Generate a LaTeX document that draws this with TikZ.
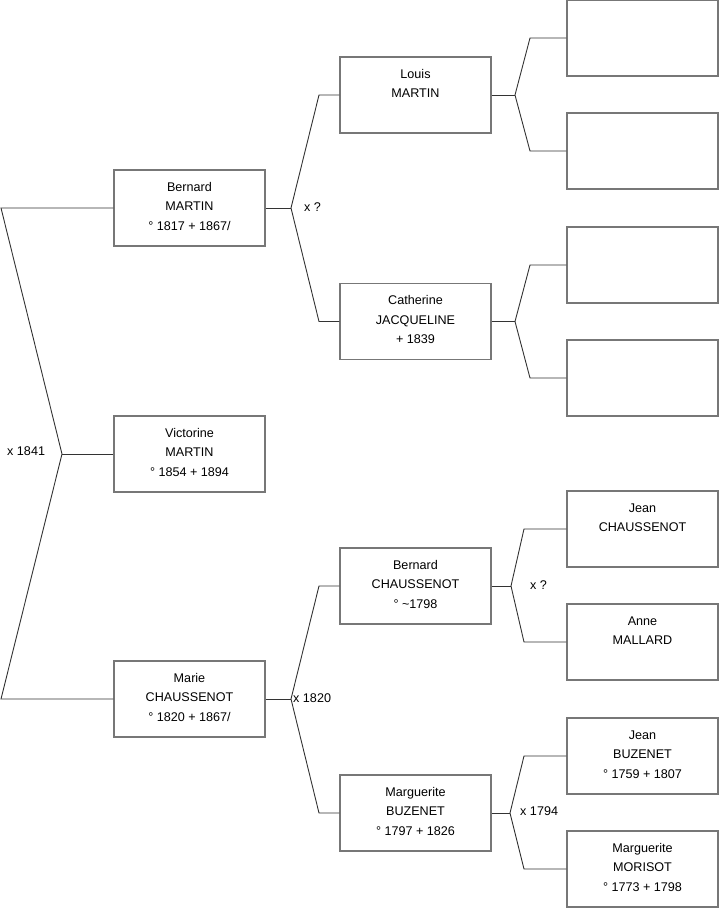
\documentclass[tikz,border=0pt]{standalone}
\usepackage{fontspec}
\setmainfont{Liberation Sans}
\definecolor{boxc}{HTML}{777777}
\definecolor{linec}{HTML}{333333}
\begin{document}
\begin{tikzpicture}[x=1pt,y=-1pt,
  box/.style={draw=boxc,line width=1.1pt,minimum width=151pt,minimum height=76pt,inner sep=0pt,fill=white},
  txt/.style={anchor=north,inner sep=0pt,align=center,font=\fontsize{12.6}{19.5}\selectfont},
  conn/.style={draw=linec,line width=0.9pt},
  mlab/.style={inner sep=0pt,font=\fontsize{12.6}{15}\selectfont,anchor=west}]
\useasboundingbox (0,0) rectangle (719,908);
\newcommand{\fl}{\rule{0pt}{10pt}}
% column 1
\node[box] (bm) at (189.5,208) {};
\node[box] (vm) at (189.5,454) {};
\node[box] (mc) at (189.5,699) {};
% column 2
\node[box] (lm) at (415.5,95) {};
\node[box] (cj) at (415.5,321.5) {};
\node[box] (bc) at (415.5,586) {};
\node[box] (mb) at (415.5,813) {};
% column 3
\node[box] (g1) at (642.5,38) {};
\node[box] (g2) at (642.5,151) {};
\node[box] (g3) at (642.5,265) {};
\node[box] (g4) at (642.5,378) {};
\node[box] (jc) at (642.5,529) {};
\node[box] (am) at (642.5,642) {};
\node[box] (jb) at (642.5,756) {};
\node[box] (mm) at (642.5,869) {};
% texts
\node[txt] (tbm) at ([yshift=-11.5pt]bm.north) {\fl Bernard\\MARTIN\\° 1817 + 1867/};
\node[txt] (tvm) at ([yshift=-11.5pt]vm.north) {\fl Victorine\\MARTIN\\° 1854 + 1894};
\node[txt] (tmc) at ([yshift=-11.5pt]mc.north) {\fl Marie\\CHAUSSENOT\\° 1820 + 1867/};
\node[txt] (tlm) at ([yshift=-11.5pt]lm.north) {\fl Louis\\MARTIN};
\node[txt] (tcj) at ([yshift=-11.5pt]cj.north) {\fl Catherine\\JACQUELINE\\+ 1839};
\node[txt] (tbc) at ([yshift=-11.5pt]bc.north) {\fl Bernard\\CHAUSSENOT\\° \textasciitilde1798};
\node[txt] (tmb) at ([yshift=-11.5pt]mb.north) {\fl Marguerite\\BUZENET\\° 1797 + 1826};
\node[txt] (tjc) at ([yshift=-11.5pt]jc.north) {\fl Jean\\CHAUSSENOT};
\node[txt] (tam) at ([yshift=-11.5pt]am.north) {\fl Anne\\MALLARD};
\node[txt] (tjb) at ([yshift=-11.5pt]jb.north) {\fl Jean\\BUZENET\\° 1759 + 1807};
\node[txt] (tmm) at ([yshift=-11.5pt]mm.north) {\fl Marguerite\\MORISOT\\° 1773 + 1798};
% junction coordinates
\coordinate (a0) at (62,454);
\coordinate (a0u) at (1,208);
\coordinate (a0d) at (1,699);
\coordinate (a1) at (291,208);
\coordinate (a1u) at (319,95);
\coordinate (a1d) at (319,321.5);
\coordinate (a2) at (291,699);
\coordinate (a2u) at (319,586);
\coordinate (a2d) at (319,813);
\coordinate (b1) at (515,95);
\coordinate (b1u) at (530,38);
\coordinate (b1d) at (530,151);
\coordinate (b2) at (515,321.5);
\coordinate (b2u) at (530,265);
\coordinate (b2d) at (530,378);
\coordinate (b3) at (511,586);
\coordinate (b3u) at (524,529);
\coordinate (b3d) at (524,642);
\coordinate (b4) at (510,813);
\coordinate (b4u) at (524,756);
\coordinate (b4d) at (524,869);
% connectors
\path[conn] (vm.west) -- (a0);
\path[conn] (bm.west) -- (a0u) -- (a0) -- (a0d) -- (mc.west);
\path[conn] (bm.east) -- (a1);
\path[conn] (lm.west) -- (a1u) -- (a1) -- (a1d) -- (cj.west);
\path[conn] (mc.east) -- (a2);
\path[conn] (bc.west) -- (a2u) -- (a2) -- (a2d) -- (mb.west);
\path[conn] (lm.east) -- (b1);
\path[conn] (g1.west) -- (b1u) -- (b1) -- (b1d) -- (g2.west);
\path[conn] (cj.east) -- (b2);
\path[conn] (g3.west) -- (b2u) -- (b2) -- (b2d) -- (g4.west);
\path[conn] (bc.east) -- (b3);
\path[conn] (jc.west) -- (b3u) -- (b3) -- (b3d) -- (am.west);
\path[conn] (mb.east) -- (b4);
\path[conn] (jb.west) -- (b4u) -- (b4) -- (b4d) -- (mm.west);
% marriage labels
\node[mlab] (m0) at (7,451) {x 1841};
\node[mlab] (m1) at (304,207) {x ?};
\node[mlab] (m2) at (293,698) {x 1820};
\node[mlab] (m3) at (530,585) {x ?};
\node[mlab] (m4) at (520,811) {x 1794};
\end{tikzpicture}
\end{document}
